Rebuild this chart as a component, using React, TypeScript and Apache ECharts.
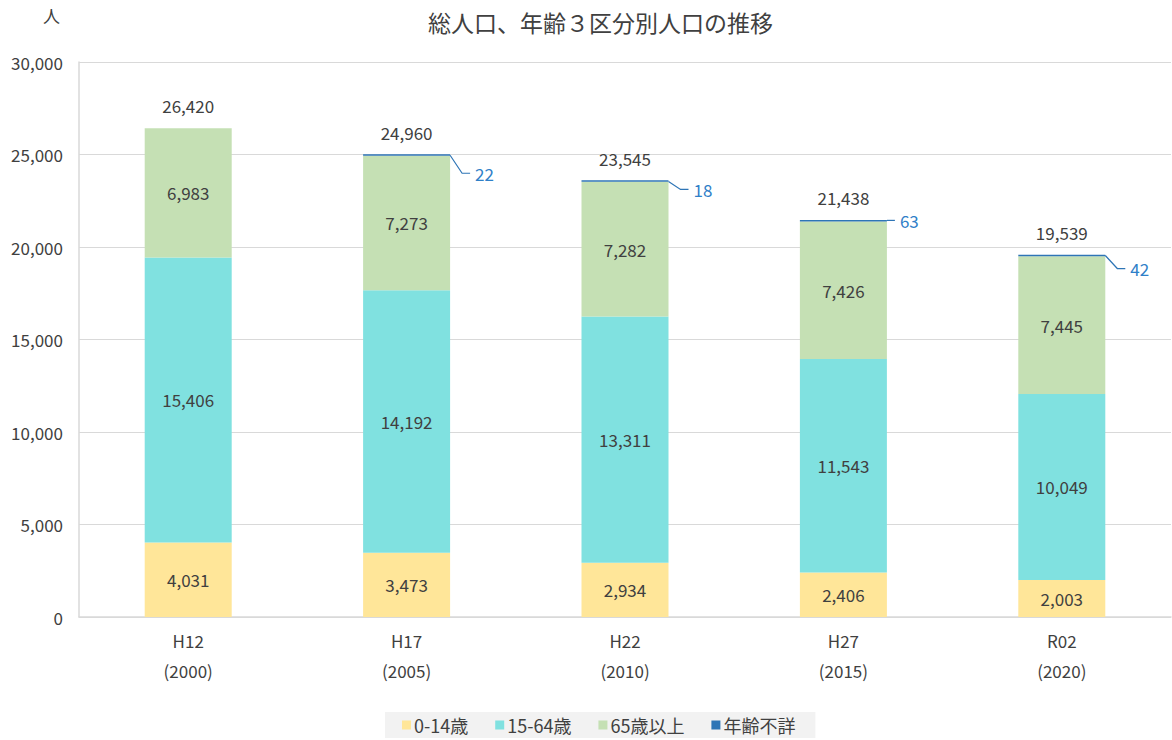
import React, { useEffect, useRef } from "react";
import * as echarts from "echarts";

const categories = ["H12\n(2000)", "H17\n(2005)", "H22\n(2010)", "H27\n(2015)", "R02\n(2020)"];
const age0to14 = [4031, 3473, 2934, 2406, 2003];
const age15to64 = [15406, 14192, 13311, 11543, 10049];
const age65plus = [6983, 7273, 7282, 7426, 7445];
const ageUnknown: (number | null)[] = [null, 22, 18, 63, 42];
const totals = [26420, 24960, 23545, 21438, 19539];
const unknownLabelDy = [0, 18, 8, 0, 13];

const FONT = "'Noto Sans CJK JP', 'Noto Sans', sans-serif";
const TXT = "#404040";
const COL_Y = "#FFE699";
const COL_C = "#80E1E0";
const COL_G = "#C5E0B4";
const COL_B = "#2E75B6";
const BAR_W = 87;
const FS = 17;

export default function App() {
  const ref = useRef<HTMLDivElement>(null);
  useEffect(() => {
    if (!ref.current) return;
    const chart = echarts.init(ref.current, null, { renderer: "svg" });
    const segLabel = {
      show: true,
      position: "inside" as const,
      color: TXT,
      fontSize: FS,
      fontFamily: FONT,
      formatter: (p: any) => Number(p.value).toLocaleString("en-US"),
    };
    chart.setOption({
      animation: false,
      textStyle: { fontFamily: FONT },
      title: {
        text: "総人口、年齢３区分別人口の推移",
        left: 423,
        top: 5,
        textStyle: { fontSize: 23, fontWeight: "normal", color: TXT, fontFamily: FONT },
      },
      graphic: [
        {
          type: "text",
          left: 43,
          top: 7,
          style: { text: "人", fontSize: 17, fill: TXT, fontFamily: FONT },
        },
      ],
      legend: {
        bottom: 2,
        left: 385,
        data: ["0-14歳", "15-64歳", "65歳以上", "年齢不詳"],
        icon: "rect",
        itemWidth: 9,
        itemHeight: 9,
        itemGap: 27,
        backgroundColor: "#f2f2f2",
        padding: [4, 20, 4, 17],
        textStyle: { fontSize: 18, color: TXT, fontFamily: FONT, padding: [0, 0, 0, -2] },
      },
      grid: { left: 79, right: 1, top: 62, bottom: 123 },
      xAxis: {
        type: "category",
        data: categories,
        axisLine: { lineStyle: { color: "#d9d9d9", width: 1.5 } },
        axisTick: { show: false },
        axisLabel: { color: TXT, fontSize: FS, fontFamily: FONT, lineHeight: 30, margin: 8 },
      },
      yAxis: {
        type: "value",
        min: 0,
        max: 30000,
        interval: 5000,
        axisLine: { show: true, lineStyle: { color: "#d9d9d9", width: 1.5 } },
        axisTick: { show: false },
        splitLine: { lineStyle: { color: "#d9d9d9", width: 1.2 } },
        axisLabel: {
          color: TXT,
          fontSize: FS,
          fontFamily: FONT,
          margin: 16,
          formatter: (v: number) => v.toLocaleString("en-US"),
        },
      },
      series: [
        {
          name: "0-14歳",
          type: "bar",
          stack: "pop",
          barWidth: BAR_W,
          data: age0to14,
          itemStyle: { color: COL_Y },
          label: segLabel,
        },
        {
          name: "15-64歳",
          type: "bar",
          stack: "pop",
          barWidth: BAR_W,
          data: age15to64,
          itemStyle: { color: COL_C },
          label: segLabel,
        },
        {
          name: "65歳以上",
          type: "bar",
          stack: "pop",
          barWidth: BAR_W,
          data: age65plus,
          itemStyle: { color: COL_G },
          label: segLabel,
        },
        {
          name: "年齢不詳",
          type: "bar",
          stack: "pop",
          barWidth: BAR_W,
          barMinHeight: 1.5,
          data: ageUnknown.map((v) => (v == null ? "-" : v)),
          itemStyle: { color: COL_B },
        },
        {
          name: "totals",
          type: "custom",
          data: totals.map((t, i) => [i, t]),
          renderItem: (params: any, api: any) => {
            const pt = api.coord([api.value(0), api.value(1)]);
            return {
              type: "text",
              x: pt[0],
              y: pt[1] - 23,
              style: {
                text: Number(api.value(1)).toLocaleString("en-US"),
                fontSize: FS,
                fill: TXT,
                fontFamily: FONT,
                align: "center",
                verticalAlign: "middle",
              },
            };
          },
          z: 5,
        },
        {
          name: "unknownCallout",
          type: "custom",
          data: totals
            .map((t, i) => [i, t, ageUnknown[i], unknownLabelDy[i]])
            .filter((d) => d[2] != null),
          renderItem: (params: any, api: any) => {
            const pt = api.coord([api.value(0), api.value(1)]);
            const dy = api.value(3);
            const x0 = pt[0] + BAR_W / 2;
            const y0 = pt[1];
            const x1 = x0 + (dy > 0 ? 12 : 0);
            const x2 = x1 + 8;
            return {
              type: "group",
              children: [
                {
                  type: "polyline",
                  shape: { points: [[x0, y0], [x1, y0 + dy], [x2, y0 + dy]] },
                  style: { stroke: COL_B, lineWidth: 1.2, fill: "none" },
                },
                {
                  type: "text",
                  x: x2 + 5,
                  y: y0 + dy,
                  style: {
                    text: String(api.value(2)),
                    fontSize: FS,
                    fill: "#2F80C8",
                    fontFamily: FONT,
                    align: "left",
                    verticalAlign: "middle",
                  },
                },
              ],
            };
          },
          z: 5,
        },
      ],
    });
    return () => chart.dispose();
  }, []);
  return <div ref={ref} style={{ width: 1172, height: 740, position: "absolute", left: 0, top: 0 }} />;
}
